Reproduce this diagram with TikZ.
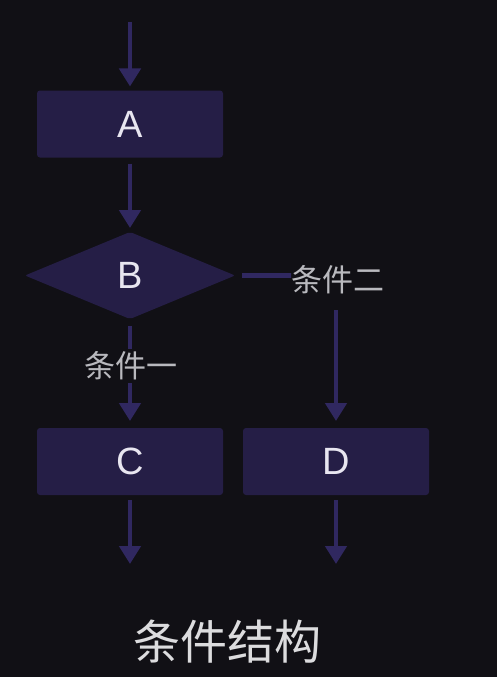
\documentclass[tikz,border=0pt]{standalone}
\usepackage{fontspec}
\setmainfont{Noto Sans CJK SC}
\newfontfamily\latinfont{Liberation Sans}
\usetikzlibrary{arrows.meta,shapes.geometric}
\definecolor{bgc}{RGB}{17,16,21}
\definecolor{boxc}{RGB}{37,30,70}
\definecolor{arrc}{RGB}{48,40,96}
\definecolor{letc}{RGB}{232,230,240}
\definecolor{labc}{RGB}{185,185,190}
\definecolor{titc}{RGB}{220,220,222}
\begin{document}
\begin{tikzpicture}[x=1pt,y=-1pt,
  proc/.style={fill=boxc,draw=none,rounded corners=3pt,minimum width=186pt,minimum height=67pt,inner sep=0pt,outer sep=0pt,text=letc,font=\latinfont\fontsize{38}{40}\selectfont},
  dec/.style={diamond,fill=boxc,draw=none,rounded corners=2pt,aspect=2.41,minimum width=210pt,minimum height=87pt,inner sep=0pt,outer sep=0pt,text=letc,font=\latinfont\fontsize{38}{40}\selectfont},
  lab/.style={text=labc,font=\fontsize{31}{32}\selectfont,inner sep=0pt,outer sep=0pt},
  conn/.style={draw=arrc,line width=4.5pt},
  flow/.style={conn,-{Triangle[width=21pt,length=18pt]}},
]
\fill[bgc] (0,0) rectangle (497,677);
\useasboundingbox (0,0) rectangle (497,677);

\node[proc] (A) at (130,124) {A};
\node[dec] (B) at (130,275.5) {B};
\node[proc] (C) at (130,461.5) {C};
\node[proc] (D) at (336,461.5) {D};
\node[lab,minimum height=30pt] (l2) at (337.5,280) {条件二};
\node[lab,minimum height=30pt] (l1) at (131,366) {条件一};
\node[text=titc,font=\fontsize{47}{50}\selectfont,inner sep=0pt] (title) at (227,642) {条件结构};

\coordinate (top) at (130,22);
\coordinate (endC) at (130,564);
\coordinate (endD) at (336,564);
\coordinate (l2s) at (336,310);

\draw[flow,shorten >=4pt] (top) -- (A.north);
\draw[flow,shorten <=6pt,shorten >=4pt] (A.south) -- (B.north);
\draw[conn,shorten <=7pt] (B.east) -- (l2.west |- B.east) -- ++(-6,0);
\draw[flow,shorten >=7pt] (l2s) -- (D.north);
\draw[conn,shorten <=7pt,shorten >=2pt] (B.south) -- (l1.north -| B.south);
\draw[flow,shorten <=2pt,shorten >=7pt] (l1.south -| C.north) -- (C.north);
\draw[flow,shorten <=5pt] (C.south) -- (endC);
\draw[flow,shorten <=5pt] (D.south) -- (endD);
\end{tikzpicture}
\end{document}
